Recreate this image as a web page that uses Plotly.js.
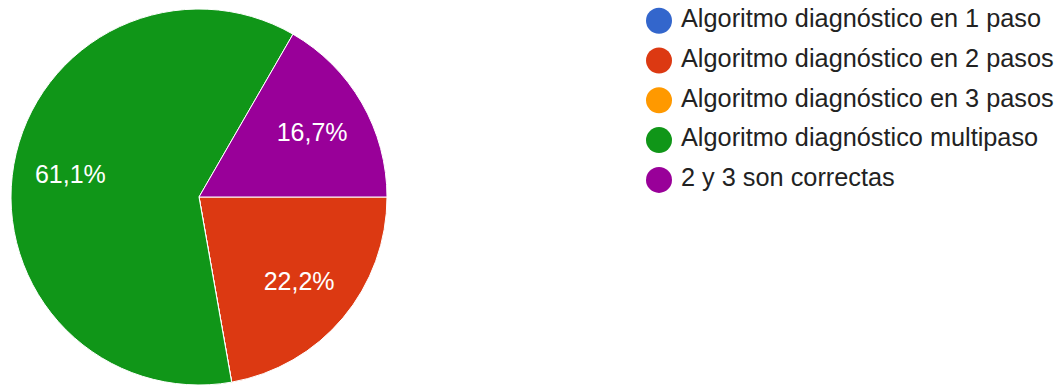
<!DOCTYPE html>
<html>
<head>
<meta charset="utf-8">
<script src="https://cdn.plot.ly/plotly-3.0.1.min.js"></script>
<style>html,body{margin:0;padding:0;background:#fff;}#chart{width:1059px;height:385px;}</style>
</head>
<body>
<div id="chart"></div>
<script>
// Data
const categories = [
  "Algoritmo diagnóstico en 1 paso",
  "Algoritmo diagnóstico en 2 pasos",
  "Algoritmo diagnóstico en 3 pasos",
  "Algoritmo diagnóstico multipaso",
  "2 y 3 son correctas"
];
const responses = [0, 4, 0, 11, 3];
const colors = ["#3366cc", "#dc3912", "#ff9900", "#109618", "#990099"];

const FONT = "Arial, 'Liberation Sans', sans-serif";
const pieDomain = { x: [10 / 1059, 388 / 1059], y: [0, 376 / 385] };

// Filled slices
const pie = {
  type: "pie",
  labels: categories,
  values: responses,
  sort: false,
  direction: "clockwise",
  rotation: 90,
  marker: { colors: colors, line: { color: "#ffffff", width: 1 } },
  textinfo: "none",
  showlegend: false,
  hoverinfo: "none",
  domain: pieDomain
};
// Transparent ring on top that carries the percentage labels at ~0.7 R
const pieLabels = {
  type: "pie",
  labels: categories,
  values: responses,
  sort: false,
  direction: "clockwise",
  rotation: 90,
  hole: 0.39,
  marker: { colors: colors.map(() => "rgba(0,0,0,0)"), line: { width: 0 } },
  texttemplate: "%{percent:.1%}",
  textposition: "inside",
  insidetextorientation: "horizontal",
  textfont: { color: "#ffffff", size: 25, family: FONT },
  showlegend: false,
  hoverinfo: "none",
  domain: pieDomain
};

// Custom legend (circle markers + labels) drawn from the same arrays
const legendMarkers = {
  type: "scatter",
  mode: "markers",
  x: categories.map(() => 0),
  y: categories,
  marker: { color: colors, size: 26, symbol: "circle" },
  xaxis: "x", yaxis: "y",
  showlegend: false, hoverinfo: "none", cliponaxis: false
};
const legendText = {
  type: "scatter",
  mode: "text",
  x: categories.map(() => 0),
  y: categories,
  text: categories,
  textposition: "middle right",
  textfont: { size: 25.3, color: "#222222", family: FONT },
  xaxis: "x2", yaxis: "y",
  showlegend: false, hoverinfo: "none", cliponaxis: false
};

const layout = {
  width: 1059, height: 385,
  margin: { l: 0, r: 0, t: 0, b: 0 },
  paper_bgcolor: "#ffffff", plot_bgcolor: "rgba(0,0,0,0)",
  separators: ",.",
  font: { family: FONT },
  xaxis: { domain: [646 / 1059, 1], range: [-13, 400], visible: false, fixedrange: true, anchor: "y" },
  xaxis2: { domain: [681 / 1059, 1], range: [0, 378], visible: false, fixedrange: true, anchor: "y" },
  yaxis: { domain: [0, 1], type: "category", range: [9.153, -0.52], visible: false, fixedrange: true, anchor: "x" },
  showlegend: false
};

Plotly.newPlot("chart", [pie, pieLabels, legendMarkers, legendText], layout, { staticPlot: true, displayModeBar: false });
</script>
</body>
</html>
